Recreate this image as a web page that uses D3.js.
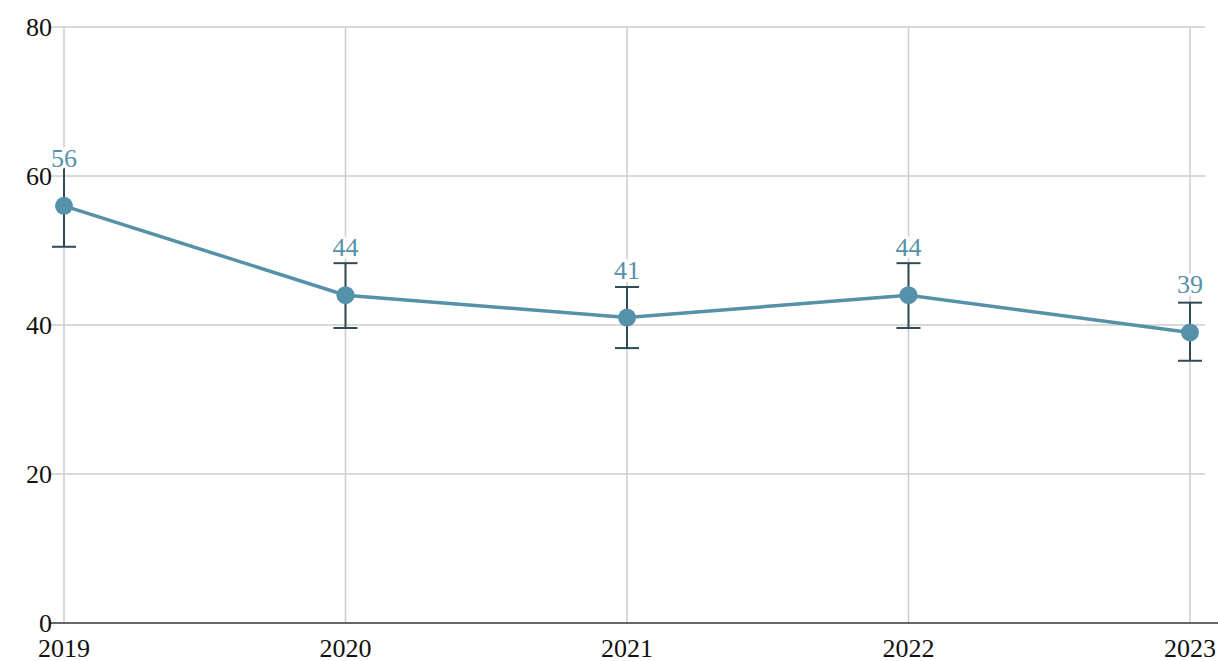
<!DOCTYPE html>
<html>
<head>
<script src="https://cdnjs.cloudflare.com/ajax/libs/d3/7.8.5/d3.min.js"></script>
<style>
body { margin: 0; background: #fff; }
</style>
</head>
<body>
<svg id="chart" width="1218" height="661"></svg>
<script>
var years = [2019, 2020, 2021, 2022, 2023];
var values = [56, 44, 41, 44, 39];
var upper = [61.2, 48.3, 45.1, 48.3, 43.0];
var lower = [50.5, 39.6, 36.9, 39.6, 35.2];
var yTicks = [0, 20, 40, 60, 80];

var font = "'Liberation Serif'";
var svg = d3.select("#chart");
var x = d3.scalePoint().domain(years).range([64, 1190]);
var y = d3.scaleLinear().domain([0, 80]).range([623, 27]);

var data = years.map(function(d, i) {
	return {year: d, value: values[i], hi: upper[i], lo: lower[i]};
});

// horizontal grid
svg.append("g").selectAll("line").data(yTicks.filter(function(t){ return t > 0; })).join("line")
	.attr("x1", 49).attr("x2", 1205)
	.attr("y1", function(d){ return y(d); }).attr("y2", function(d){ return y(d); })
	.attr("stroke", "#cccccc").attr("stroke-width", 1.5);

// vertical grid
svg.append("g").selectAll("line").data(years).join("line")
	.attr("x1", function(d){ return x(d); }).attr("x2", function(d){ return x(d); })
	.attr("y1", y(80)).attr("y2", y(0))
	.attr("stroke", "#cccccc").attr("stroke-width", 1.5);

// baseline
svg.append("line").attr("x1", 49).attr("x2", 1218).attr("y1", y(0)).attr("y2", y(0))
	.attr("stroke", "#333").attr("stroke-width", 1.5);

// y labels
svg.append("g").selectAll("text").data(yTicks).join("text")
	.attr("x", 52).attr("y", function(d){ return y(d); })
	.attr("dy", "0.35em").attr("text-anchor", "end")
	.style("font-family", font).style("font-size", "26px").attr("fill", "#111")
	.text(function(d){ return d; });

// x labels
svg.append("g").selectAll("text").data(years).join("text")
	.attr("x", function(d){ return x(d); }).attr("y", 657)
	.attr("text-anchor", "middle")
	.style("font-family", font).style("font-size", "26px").attr("fill", "#111")
	.text(function(d){ return d; });

// error bars
var eb = svg.append("g").attr("stroke", "#2f4a57").attr("stroke-width", 2);
eb.selectAll(".v").data(data).join("line")
	.attr("x1", function(d){ return x(d.year); }).attr("x2", function(d){ return x(d.year); })
	.attr("y1", function(d){ return y(d.hi); }).attr("y2", function(d){ return y(d.lo); });
eb.selectAll(".hi").data(data).join("line")
	.attr("x1", function(d){ return x(d.year) - 12; }).attr("x2", function(d){ return x(d.year) + 12; })
	.attr("y1", function(d){ return y(d.hi); }).attr("y2", function(d){ return y(d.hi); });
eb.selectAll(".lo").data(data).join("line")
	.attr("x1", function(d){ return x(d.year) - 12; }).attr("x2", function(d){ return x(d.year) + 12; })
	.attr("y1", function(d){ return y(d.lo); }).attr("y2", function(d){ return y(d.lo); });

// line
var line = d3.line().x(function(d){ return x(d.year); }).y(function(d){ return y(d.value); });
svg.append("path").datum(data).attr("d", line)
	.attr("fill", "none").attr("stroke", "#5591a8").attr("stroke-width", 3.5);

svg.append("g").selectAll("circle").data(data).join("circle")
	.attr("cx", function(d){ return x(d.year); }).attr("cy", function(d){ return y(d.value); })
	.attr("r", 9).attr("fill", "#5591a8");

// value labels
svg.append("g").selectAll("text").data(data).join("text")
	.attr("x", function(d){ return x(d.year); }).attr("y", function(d){ return y(d.value) - 39; })
	.attr("text-anchor", "middle")
	.style("font-family", font).style("font-size", "26px")
	.attr("fill", "#5591a8").attr("stroke", "#fff").attr("stroke-width", 7)
	.attr("stroke-linejoin", "round").attr("paint-order", "stroke")
	.text(function(d){ return d.value; });
</script>
</body>
</html>
